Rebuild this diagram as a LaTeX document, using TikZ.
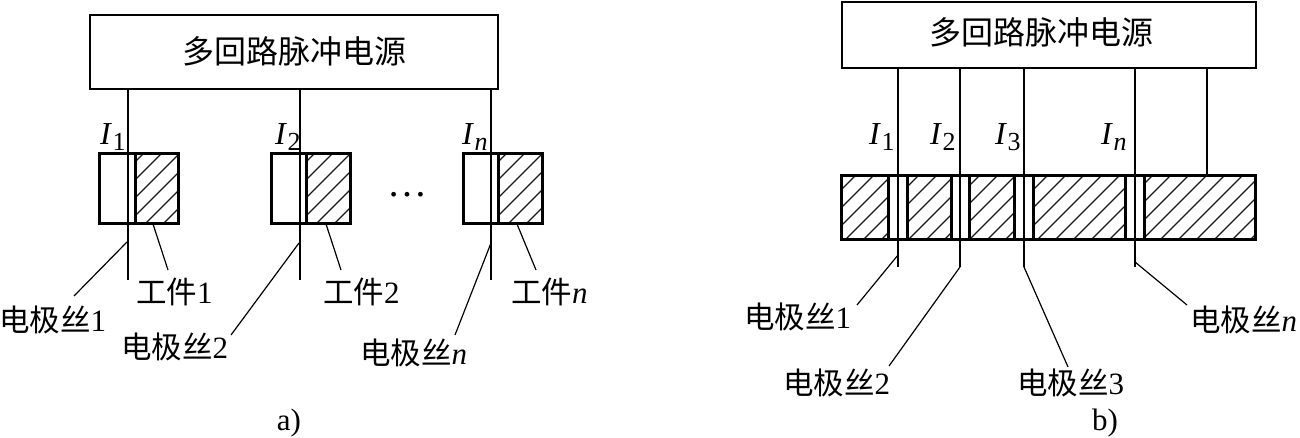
\documentclass[tikz,border=0pt]{standalone}
\usepackage{fontspec}
\setmainfont{Liberation Serif}
\newfontfamily\cjk{Noto Sans CJK SC}
\newcommand{\zh}[1]{{\cjk\fontsize{30.5}{30.5}\selectfont #1}}
\newcommand{\zhtitle}[1]{{\cjk\fontsize{32}{32}\selectfont #1}}
\newcommand{\lat}[1]{{\fontsize{31}{31}\selectfont #1}}
\newcommand{\cur}[2]{{\fontsize{32}{32}\selectfont\textit{I}\kern0.5pt\raisebox{-6pt}{\fontsize{26}{26}\selectfont #1}}}
\tikzset{
  x=1pt,y=-1pt,
  wire/.style={line width=1.4pt,black},
  leader/.style={line width=1.2pt,black},
  heavy/.style={line width=3pt,black},
  psu/.style={draw,line width=2.4pt,inner sep=0pt,anchor=north west},
  txt/.style={inner sep=0pt,anchor=west,text=black},
  hatchline/.style={line width=1.2pt,black!90}
}
\newcommand{\hatchbox}[5]{% x1 y1 x2 y2 shift
  \begin{scope}
    \clip (#1,#2) rectangle (#3,#4);
    \foreach \k in {0,...,13}{
      \draw[hatchline] ({#1+#5+\k*18},#2) -- ({#1+#5+\k*18-(#4-#2)},#4);
    }
  \end{scope}
}
\begin{document}
\begin{tikzpicture}
\useasboundingbox (0,0) rectangle (1300,438);
% panel a
\node[psu,minimum width=408pt,minimum height=74pt] (psuA) at (89,14) {};
\node[inner sep=0pt] (psuAt) at (294,51) {\zhtitle{多回路脉冲电源}};
\coordinate (a1t) at (128,88); \coordinate (a1b) at (128,280);
\coordinate (a2t) at (300,88); \coordinate (a2b) at (300,280);
\coordinate (a3t) at (491,88); \coordinate (a3b) at (491,280);
\hatchbox{135}{154}{178}{224}{8}
\hatchbox{306}{154}{350}{224}{8}
\hatchbox{498}{154}{542}{224}{8}
\draw[heavy] (99,154) rectangle (178,224) (135,154) -- (135,224);
\draw[heavy] (271,154) rectangle (350,224) (306,154) -- (306,224);
\draw[heavy] (463,154) rectangle (542,224) (498,154) -- (498,224);
\draw[wire] (a1t) -- (a1b);
\draw[wire] (a2t) -- (a2b);
\draw[wire] (a3t) -- (a3b);
\node[txt] (ia1) at (100,137) {\cur{1}{}};
\node[txt] (ia2) at (275,137) {\cur{2}{}};
\node[txt] (ia3) at (462,137) {\cur{\textit{n}}{}};
\node[inner sep=0pt] (dots) at (407,195) {{\fontsize{40}{40}\selectfont …}};
\node[txt] (ea1) at (-1,320) {\zh{电极丝}\lat{1}};
\node[txt] (ea2) at (121,347) {\zh{电极丝}\lat{2}};
\node[txt] (ea3) at (360,353) {\zh{电极丝}\lat{\textit{n}}};
\node[txt] (wa1) at (136,292) {\zh{工件}\lat{1}};
\node[txt] (wa2) at (323,292) {\zh{工件}\lat{2}};
\node[txt] (wa3) at (511,292) {\zh{工件}\lat{\textit{n}}};
\coordinate (la1) at (127,242); \coordinate (la1e) at (74,296);
\coordinate (la2) at (299,243); \coordinate (la2e) at (231,335);
\coordinate (la3) at (491,243); \coordinate (la3e) at (455,335);
\coordinate (lw1) at (153,224); \coordinate (lw1e) at (168,270);
\coordinate (lw2) at (326,224); \coordinate (lw2e) at (341,270);
\coordinate (lw3) at (517,224); \coordinate (lw3e) at (536,270);
\draw[leader] (la1) -- (la1e);
\draw[leader] (la2) -- (la2e);
\draw[leader] (la3) -- (la3e);
\draw[leader] (lw1) -- (lw1e);
\draw[leader] (lw2) -- (lw2e);
\draw[leader] (lw3) -- (lw3e);
\node[inner sep=0pt] (capa) at (289,423) {\lat{a)}};
% panel b
\node[psu,minimum width=414pt,minimum height=66pt] (psuB) at (841,1) {};
\node[inner sep=0pt] (psuBt) at (1041,32) {\zhtitle{多回路脉冲电源}};
\coordinate (b1t) at (898,67); \coordinate (b1b) at (898,267);
\coordinate (b2t) at (960,67); \coordinate (b2b) at (960,267);
\coordinate (b3t) at (1024,67); \coordinate (b3b) at (1024,267);
\coordinate (b4t) at (1135,67); \coordinate (b4b) at (1135,267);
\coordinate (b5t) at (1207,67); \coordinate (b5b) at (1207,175);
\hatchbox{841}{176}{888}{240}{14}
\hatchbox{907}{176}{951}{240}{11}
\hatchbox{969}{176}{1014}{240}{10}
\hatchbox{1033}{176}{1125}{240}{14}
\hatchbox{1144}{176}{1255}{240}{8}
\draw[heavy] (841,176) rectangle (1255,240);
\foreach \xx in {888,907,951,969,1014,1033,1125,1144}{\draw[heavy] (\xx,176) -- (\xx,240);}
\draw[wire] (b1t) -- (b1b);
\draw[wire] (b2t) -- (b2b);
\draw[wire] (b3t) -- (b3b);
\draw[wire] (b4t) -- (b4b);
\draw[wire] (b5t) -- (b5b);
\node[txt] (ib1) at (869,137) {\cur{1}{}};
\node[txt] (ib2) at (930,137) {\cur{2}{}};
\node[txt] (ib3) at (995,137) {\cur{3}{}};
\node[txt] (ib4) at (1101,137) {\cur{\textit{n}}{}};
\node[txt] (eb1) at (744,317) {\zh{电极丝}\lat{1}};
\node[txt] (eb2) at (783,383) {\zh{电极丝}\lat{2}};
\node[txt] (eb3) at (1017,383) {\zh{电极丝}\lat{3}};
\node[txt] (eb4) at (1190,320) {\zh{电极丝}\lat{\textit{n}}};
\coordinate (lb1) at (898,255); \coordinate (lb1e) at (857,305);
\coordinate (lb2) at (960,267); \coordinate (lb2e) at (889,366);
\coordinate (lb3) at (1024,267); \coordinate (lb3e) at (1068,367);
\coordinate (lb4) at (1135,262); \coordinate (lb4e) at (1187,305);
\draw[leader] (lb1) -- (lb1e);
\draw[leader] (lb2) -- (lb2e);
\draw[leader] (lb3) -- (lb3e);
\draw[leader] (lb4) -- (lb4e);
\node[inner sep=0pt] (capb) at (1105,423) {\lat{b)}};
\end{tikzpicture}
\end{document}
